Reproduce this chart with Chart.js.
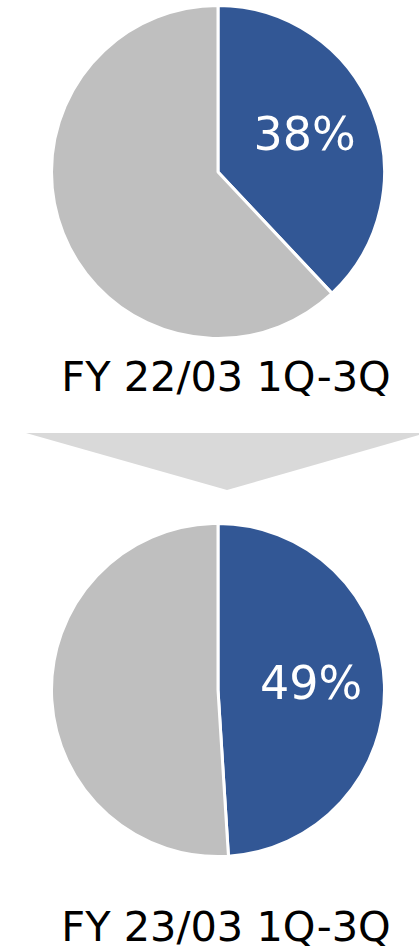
<!DOCTYPE html>
<html>
<head>
<meta charset="utf-8">
<script src="https://cdn.jsdelivr.net/npm/chart.js@4"></script>
<style>
  html, body { margin: 0; padding: 0; background: #fff; }
  body { width: 419px; height: 950px; position: relative; overflow: hidden; font-family: "DejaVu Sans", Verdana, sans-serif; }
  .pie { position: absolute; left: 50px; width: 336px; height: 336px; }
  .pie canvas { width: 336px !important; height: 336px !important; }
  .periodo { position: absolute; left: 0; width: 452px; text-align: center; font-size: 41.5px; color: #000; white-space: nowrap; }
  #flecha { position: absolute; left: 26px; top: 433px; width: 400px; height: 57px; background: #d9d9d9;
            clip-path: polygon(0 0, 100% 0, 50.25% 100%); }
</style>
</head>
<body>
<div class="pie" style="top:4px"><canvas id="pie1"></canvas></div>
<div class="periodo" style="top:352px" id="lbl1"></div>
<div id="flecha"></div>
<div class="pie" style="top:522px"><canvas id="pie2"></canvas></div>
<div class="periodo" style="top:902px" id="lbl2"></div>

<script>
// Datos
const periodos = ['FY 22/03 1Q-3Q', 'FY 23/03 1Q-3Q'];
const sliceLabels = ['Share', 'Other'];
const shareValues = [38, 49];
const otherValues = [62, 51];
const colores = ['#325795', '#bfbfbf'];

// Etiqueta de porcentaje dentro de la porcion azul
const etiquetaPorcentaje = {
    id: 'etiquetaPorcentaje',
    afterDatasetsDraw(chart) {
        const ctx = chart.ctx;
        const arc = chart.getDatasetMeta(0).data[0];
        const valor = chart.data.datasets[0].data[0];
        const mid = (arc.startAngle + arc.endAngle) / 2;
        const r = arc.outerRadius * 0.56;
        ctx.save();
        ctx.fillStyle = '#ffffff';
        ctx.font = '46px "DejaVu Sans", Verdana, sans-serif';
        ctx.textAlign = 'center';
        ctx.textBaseline = 'middle';
        ctx.fillText(valor + '%', arc.x + Math.cos(mid) * r, arc.y + Math.sin(mid) * r);
        ctx.restore();
    }
};

function crearPie(id, i) {
    const ctx = document.getElementById(id).getContext('2d');
    new Chart(ctx, {
        type: 'pie',
        data: {
            labels: sliceLabels,
            datasets: [{
                data: [shareValues[i], otherValues[i]],
                backgroundColor: colores,
                borderColor: '#ffffff',
                borderWidth: 3
            }]
        },
        options: {
            responsive: false,
            animation: false,
            layout: { padding: 0 },
            plugins: {
                legend: { display: false },
                tooltip: { enabled: false }
            }
        },
        plugins: [etiquetaPorcentaje]
    });
}

document.getElementById('pie1').width = 336;
document.getElementById('pie1').height = 336;
document.getElementById('pie2').width = 336;
document.getElementById('pie2').height = 336;
crearPie('pie1', 0);
crearPie('pie2', 1);
document.getElementById('lbl1').textContent = periodos[0];
document.getElementById('lbl2').textContent = periodos[1];
</script>
</body>
</html>
